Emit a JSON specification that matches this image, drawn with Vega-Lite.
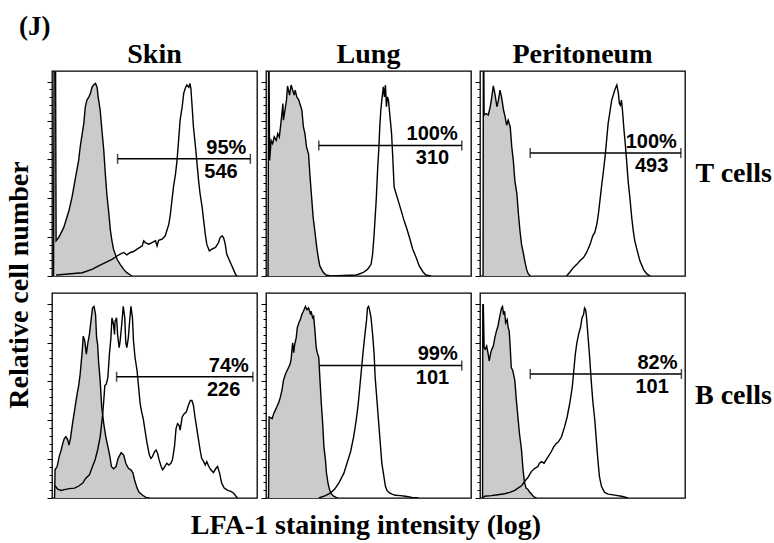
{
"$schema": "https://vega.github.io/schema/vega-lite/v6.json",
"background": "white",
"padding": {"left": 5, "top": 13, "right": 1, "bottom": 2},
"title": {"text": "(J)", "anchor": "start", "frame": "bounds", "dx": 13, "font": "Liberation Serif", "fontSize": 27, "fontWeight": "bold", "color": "black", "offset": 0},
"data": {"values": [
{"tissue":"Skin","cell":"T cells","series":"gate","log":1.28,"log_end":3.87,"count":60.3,"pct":"95%","mfi":"546"},
{"tissue":"Lung","cell":"T cells","series":"gate","log":1.03,"log_end":3.82,"count":67.2,"pct":"100%","mfi":"310"},
{"tissue":"Peritoneum","cell":"T cells","series":"gate","log":0.98,"log_end":3.92,"count":63.3,"pct":"100%","mfi":"493"},
{"tissue":"Skin","cell":"B cells","series":"gate","log":1.26,"log_end":3.92,"count":62.4,"pct":"74%","mfi":"226"},
{"tissue":"Lung","cell":"B cells","series":"gate","log":1.0,"log_end":3.82,"count":68.2,"pct":"99%","mfi":"101"},
{"tissue":"Peritoneum","cell":"B cells","series":"gate","log":0.98,"log_end":3.93,"count":63.8,"pct":"82%","mfi":"101"},
{"tissue":"Skin","cell":"T cells","series":"isotype","log":0.03,"count":0},
{"tissue":"Skin","cell":"T cells","series":"isotype","log":0.04,"count":105},
{"tissue":"Skin","cell":"T cells","series":"isotype","log":0.07,"count":105},
{"tissue":"Skin","cell":"T cells","series":"isotype","log":0.08,"count":18.1},
{"tissue":"Skin","cell":"T cells","series":"isotype","log":0.13,"count":19.8},
{"tissue":"Skin","cell":"T cells","series":"isotype","log":0.23,"count":25.0},
{"tissue":"Skin","cell":"T cells","series":"isotype","log":0.33,"count":33.6},
{"tissue":"Skin","cell":"T cells","series":"isotype","log":0.39,"count":40.5},
{"tissue":"Skin","cell":"T cells","series":"isotype","log":0.46,"count":50.9},
{"tissue":"Skin","cell":"T cells","series":"isotype","log":0.52,"count":59.5},
{"tissue":"Skin","cell":"T cells","series":"isotype","log":0.55,"count":66.4},
{"tissue":"Skin","cell":"T cells","series":"isotype","log":0.59,"count":73.3},
{"tissue":"Skin","cell":"T cells","series":"isotype","log":0.62,"count":78.4},
{"tissue":"Skin","cell":"T cells","series":"isotype","log":0.65,"count":87.1},
{"tissue":"Skin","cell":"T cells","series":"isotype","log":0.68,"count":90.5},
{"tissue":"Skin","cell":"T cells","series":"isotype","log":0.72,"count":92.2},
{"tissue":"Skin","cell":"T cells","series":"isotype","log":0.75,"count":94.0},
{"tissue":"Skin","cell":"T cells","series":"isotype","log":0.78,"count":97.1},
{"tissue":"Skin","cell":"T cells","series":"isotype","log":0.81,"count":98.3},
{"tissue":"Skin","cell":"T cells","series":"isotype","log":0.85,"count":99.1},
{"tissue":"Skin","cell":"T cells","series":"isotype","log":0.88,"count":97.1},
{"tissue":"Skin","cell":"T cells","series":"isotype","log":0.90,"count":92.2},
{"tissue":"Skin","cell":"T cells","series":"isotype","log":0.92,"count":88.8},
{"tissue":"Skin","cell":"T cells","series":"isotype","log":0.94,"count":85.3},
{"tissue":"Skin","cell":"T cells","series":"isotype","log":0.98,"count":73.3},
{"tissue":"Skin","cell":"T cells","series":"isotype","log":1.01,"count":64.7},
{"tissue":"Skin","cell":"T cells","series":"isotype","log":1.04,"count":52.6},
{"tissue":"Skin","cell":"T cells","series":"isotype","log":1.07,"count":42.2},
{"tissue":"Skin","cell":"T cells","series":"isotype","log":1.11,"count":31.9},
{"tissue":"Skin","cell":"T cells","series":"isotype","log":1.14,"count":23.3},
{"tissue":"Skin","cell":"T cells","series":"isotype","log":1.17,"count":18.1},
{"tissue":"Skin","cell":"T cells","series":"isotype","log":1.20,"count":13.8},
{"tissue":"Skin","cell":"T cells","series":"isotype","log":1.27,"count":8.6},
{"tissue":"Skin","cell":"T cells","series":"isotype","log":1.33,"count":6.0},
{"tissue":"Skin","cell":"T cells","series":"isotype","log":1.40,"count":3.4},
{"tissue":"Skin","cell":"T cells","series":"isotype","log":1.46,"count":1.7},
{"tissue":"Skin","cell":"T cells","series":"isotype","log":1.53,"count":0.5},
{"tissue":"Skin","cell":"T cells","series":"isotype","log":1.56,"count":0},
{"tissue":"Skin","cell":"T cells","series":"LFA-1","log":0.08,"count":0.5},
{"tissue":"Skin","cell":"T cells","series":"LFA-1","log":0.26,"count":0.9},
{"tissue":"Skin","cell":"T cells","series":"LFA-1","log":0.59,"count":1.7},
{"tissue":"Skin","cell":"T cells","series":"LFA-1","log":0.78,"count":3.4},
{"tissue":"Skin","cell":"T cells","series":"LFA-1","log":0.91,"count":5.2},
{"tissue":"Skin","cell":"T cells","series":"LFA-1","log":1.04,"count":6.9},
{"tissue":"Skin","cell":"T cells","series":"LFA-1","log":1.17,"count":8.6},
{"tissue":"Skin","cell":"T cells","series":"LFA-1","log":1.27,"count":10.3},
{"tissue":"Skin","cell":"T cells","series":"LFA-1","log":1.33,"count":11.2},
{"tissue":"Skin","cell":"T cells","series":"LFA-1","log":1.40,"count":12.1},
{"tissue":"Skin","cell":"T cells","series":"LFA-1","log":1.46,"count":10.9},
{"tissue":"Skin","cell":"T cells","series":"LFA-1","log":1.53,"count":12.1},
{"tissue":"Skin","cell":"T cells","series":"LFA-1","log":1.59,"count":12.6},
{"tissue":"Skin","cell":"T cells","series":"LFA-1","log":1.66,"count":13.8},
{"tissue":"Skin","cell":"T cells","series":"LFA-1","log":1.76,"count":15.5},
{"tissue":"Skin","cell":"T cells","series":"LFA-1","log":1.79,"count":18.1},
{"tissue":"Skin","cell":"T cells","series":"LFA-1","log":1.82,"count":17.2},
{"tissue":"Skin","cell":"T cells","series":"LFA-1","log":1.89,"count":16.4},
{"tissue":"Skin","cell":"T cells","series":"LFA-1","log":1.95,"count":17.2},
{"tissue":"Skin","cell":"T cells","series":"LFA-1","log":2.02,"count":18.1},
{"tissue":"Skin","cell":"T cells","series":"LFA-1","log":2.05,"count":15.5},
{"tissue":"Skin","cell":"T cells","series":"LFA-1","log":2.08,"count":18.4},
{"tissue":"Skin","cell":"T cells","series":"LFA-1","log":2.15,"count":19.0},
{"tissue":"Skin","cell":"T cells","series":"LFA-1","log":2.18,"count":19.8},
{"tissue":"Skin","cell":"T cells","series":"LFA-1","log":2.21,"count":20.7},
{"tissue":"Skin","cell":"T cells","series":"LFA-1","log":2.24,"count":23.3},
{"tissue":"Skin","cell":"T cells","series":"LFA-1","log":2.28,"count":26.7},
{"tissue":"Skin","cell":"T cells","series":"LFA-1","log":2.31,"count":31.9},
{"tissue":"Skin","cell":"T cells","series":"LFA-1","log":2.34,"count":38.8},
{"tissue":"Skin","cell":"T cells","series":"LFA-1","log":2.37,"count":45.7},
{"tissue":"Skin","cell":"T cells","series":"LFA-1","log":2.41,"count":52.6},
{"tissue":"Skin","cell":"T cells","series":"LFA-1","log":2.44,"count":59.5},
{"tissue":"Skin","cell":"T cells","series":"LFA-1","log":2.47,"count":69.8},
{"tissue":"Skin","cell":"T cells","series":"LFA-1","log":2.50,"count":80.2},
{"tissue":"Skin","cell":"T cells","series":"LFA-1","log":2.54,"count":87.1},
{"tissue":"Skin","cell":"T cells","series":"LFA-1","log":2.57,"count":94.0},
{"tissue":"Skin","cell":"T cells","series":"LFA-1","log":2.60,"count":96.6},
{"tissue":"Skin","cell":"T cells","series":"LFA-1","log":2.63,"count":98.3},
{"tissue":"Skin","cell":"T cells","series":"LFA-1","log":2.67,"count":97.1},
{"tissue":"Skin","cell":"T cells","series":"LFA-1","log":2.69,"count":99.1},
{"tissue":"Skin","cell":"T cells","series":"LFA-1","log":2.71,"count":96.6},
{"tissue":"Skin","cell":"T cells","series":"LFA-1","log":2.73,"count":88.8},
{"tissue":"Skin","cell":"T cells","series":"LFA-1","log":2.76,"count":76.7},
{"tissue":"Skin","cell":"T cells","series":"LFA-1","log":2.80,"count":66.4},
{"tissue":"Skin","cell":"T cells","series":"LFA-1","log":2.83,"count":57.8},
{"tissue":"Skin","cell":"T cells","series":"LFA-1","log":2.86,"count":49.1},
{"tissue":"Skin","cell":"T cells","series":"LFA-1","log":2.89,"count":42.2},
{"tissue":"Skin","cell":"T cells","series":"LFA-1","log":2.93,"count":35.3},
{"tissue":"Skin","cell":"T cells","series":"LFA-1","log":2.96,"count":28.4},
{"tissue":"Skin","cell":"T cells","series":"LFA-1","log":2.99,"count":21.6},
{"tissue":"Skin","cell":"T cells","series":"LFA-1","log":3.02,"count":16.4},
{"tissue":"Skin","cell":"T cells","series":"LFA-1","log":3.07,"count":12.9},
{"tissue":"Skin","cell":"T cells","series":"LFA-1","log":3.12,"count":13.8},
{"tissue":"Skin","cell":"T cells","series":"LFA-1","log":3.19,"count":14.7},
{"tissue":"Skin","cell":"T cells","series":"LFA-1","log":3.25,"count":17.2},
{"tissue":"Skin","cell":"T cells","series":"LFA-1","log":3.28,"count":19.8},
{"tissue":"Skin","cell":"T cells","series":"LFA-1","log":3.32,"count":20.7},
{"tissue":"Skin","cell":"T cells","series":"LFA-1","log":3.35,"count":19.5},
{"tissue":"Skin","cell":"T cells","series":"LFA-1","log":3.38,"count":16.4},
{"tissue":"Skin","cell":"T cells","series":"LFA-1","log":3.41,"count":11.2},
{"tissue":"Skin","cell":"T cells","series":"LFA-1","log":3.48,"count":6.9},
{"tissue":"Skin","cell":"T cells","series":"LFA-1","log":3.54,"count":3.4},
{"tissue":"Skin","cell":"T cells","series":"LFA-1","log":3.58,"count":0.9},
{"tissue":"Skin","cell":"T cells","series":"LFA-1","log":3.61,"count":0},
{"tissue":"Lung","cell":"T cells","series":"isotype","log":0.04,"count":0},
{"tissue":"Lung","cell":"T cells","series":"isotype","log":0.05,"count":105},
{"tissue":"Lung","cell":"T cells","series":"isotype","log":0.06,"count":105},
{"tissue":"Lung","cell":"T cells","series":"isotype","log":0.07,"count":59.5},
{"tissue":"Lung","cell":"T cells","series":"isotype","log":0.10,"count":69.8},
{"tissue":"Lung","cell":"T cells","series":"isotype","log":0.13,"count":68.1},
{"tissue":"Lung","cell":"T cells","series":"isotype","log":0.16,"count":71.6},
{"tissue":"Lung","cell":"T cells","series":"isotype","log":0.20,"count":69.8},
{"tissue":"Lung","cell":"T cells","series":"isotype","log":0.23,"count":73.3},
{"tissue":"Lung","cell":"T cells","series":"isotype","log":0.26,"count":71.6},
{"tissue":"Lung","cell":"T cells","series":"isotype","log":0.29,"count":78.4},
{"tissue":"Lung","cell":"T cells","series":"isotype","log":0.33,"count":88.8},
{"tissue":"Lung","cell":"T cells","series":"isotype","log":0.34,"count":80.2},
{"tissue":"Lung","cell":"T cells","series":"isotype","log":0.38,"count":87.1},
{"tissue":"Lung","cell":"T cells","series":"isotype","log":0.40,"count":90.5},
{"tissue":"Lung","cell":"T cells","series":"isotype","log":0.42,"count":97.8},
{"tissue":"Lung","cell":"T cells","series":"isotype","log":0.46,"count":93.1},
{"tissue":"Lung","cell":"T cells","series":"isotype","log":0.49,"count":98.3},
{"tissue":"Lung","cell":"T cells","series":"isotype","log":0.52,"count":95.7},
{"tissue":"Lung","cell":"T cells","series":"isotype","log":0.55,"count":93.1},
{"tissue":"Lung","cell":"T cells","series":"isotype","log":0.57,"count":95.7},
{"tissue":"Lung","cell":"T cells","series":"isotype","log":0.60,"count":92.2},
{"tissue":"Lung","cell":"T cells","series":"isotype","log":0.64,"count":90.5},
{"tissue":"Lung","cell":"T cells","series":"isotype","log":0.66,"count":88.8},
{"tissue":"Lung","cell":"T cells","series":"isotype","log":0.70,"count":85.3},
{"tissue":"Lung","cell":"T cells","series":"isotype","log":0.73,"count":76.7},
{"tissue":"Lung","cell":"T cells","series":"isotype","log":0.76,"count":73.3},
{"tissue":"Lung","cell":"T cells","series":"isotype","log":0.79,"count":66.4},
{"tissue":"Lung","cell":"T cells","series":"isotype","log":0.83,"count":62.9},
{"tissue":"Lung","cell":"T cells","series":"isotype","log":0.86,"count":50.9},
{"tissue":"Lung","cell":"T cells","series":"isotype","log":0.89,"count":40.5},
{"tissue":"Lung","cell":"T cells","series":"isotype","log":0.92,"count":30.2},
{"tissue":"Lung","cell":"T cells","series":"isotype","log":0.96,"count":21.6},
{"tissue":"Lung","cell":"T cells","series":"isotype","log":0.99,"count":14.7},
{"tissue":"Lung","cell":"T cells","series":"isotype","log":1.02,"count":9.5},
{"tissue":"Lung","cell":"T cells","series":"isotype","log":1.05,"count":5.2},
{"tissue":"Lung","cell":"T cells","series":"isotype","log":1.11,"count":2.2},
{"tissue":"Lung","cell":"T cells","series":"isotype","log":1.17,"count":0.5},
{"tissue":"Lung","cell":"T cells","series":"isotype","log":1.27,"count":0},
{"tissue":"Lung","cell":"T cells","series":"LFA-1","log":1.27,"count":0},
{"tissue":"Lung","cell":"T cells","series":"LFA-1","log":1.76,"count":0.5},
{"tissue":"Lung","cell":"T cells","series":"LFA-1","log":1.89,"count":1.7},
{"tissue":"Lung","cell":"T cells","series":"LFA-1","log":1.98,"count":3.4},
{"tissue":"Lung","cell":"T cells","series":"LFA-1","log":2.05,"count":6.0},
{"tissue":"Lung","cell":"T cells","series":"LFA-1","log":2.08,"count":11.2},
{"tissue":"Lung","cell":"T cells","series":"LFA-1","log":2.11,"count":21.6},
{"tissue":"Lung","cell":"T cells","series":"LFA-1","log":2.15,"count":38.8},
{"tissue":"Lung","cell":"T cells","series":"LFA-1","log":2.18,"count":56.0},
{"tissue":"Lung","cell":"T cells","series":"LFA-1","log":2.20,"count":64.7},
{"tissue":"Lung","cell":"T cells","series":"LFA-1","log":2.22,"count":76.7},
{"tissue":"Lung","cell":"T cells","series":"LFA-1","log":2.24,"count":85.3},
{"tissue":"Lung","cell":"T cells","series":"LFA-1","log":2.26,"count":90.5},
{"tissue":"Lung","cell":"T cells","series":"LFA-1","log":2.29,"count":97.4},
{"tissue":"Lung","cell":"T cells","series":"LFA-1","log":2.31,"count":92.2},
{"tissue":"Lung","cell":"T cells","series":"LFA-1","log":2.33,"count":98.3},
{"tissue":"Lung","cell":"T cells","series":"LFA-1","log":2.35,"count":87.1},
{"tissue":"Lung","cell":"T cells","series":"LFA-1","log":2.37,"count":92.2},
{"tissue":"Lung","cell":"T cells","series":"LFA-1","log":2.39,"count":90.5},
{"tissue":"Lung","cell":"T cells","series":"LFA-1","log":2.42,"count":81.9},
{"tissue":"Lung","cell":"T cells","series":"LFA-1","log":2.45,"count":73.3},
{"tissue":"Lung","cell":"T cells","series":"LFA-1","log":2.47,"count":62.9},
{"tissue":"Lung","cell":"T cells","series":"LFA-1","log":2.50,"count":45.7},
{"tissue":"Lung","cell":"T cells","series":"LFA-1","log":2.54,"count":42.2},
{"tissue":"Lung","cell":"T cells","series":"LFA-1","log":2.60,"count":37.0},
{"tissue":"Lung","cell":"T cells","series":"LFA-1","log":2.65,"count":32.5},
{"tissue":"Lung","cell":"T cells","series":"LFA-1","log":2.70,"count":28.0},
{"tissue":"Lung","cell":"T cells","series":"LFA-1","log":2.74,"count":25.0},
{"tissue":"Lung","cell":"T cells","series":"LFA-1","log":2.80,"count":19.8},
{"tissue":"Lung","cell":"T cells","series":"LFA-1","log":2.86,"count":14.0},
{"tissue":"Lung","cell":"T cells","series":"LFA-1","log":2.93,"count":9.5},
{"tissue":"Lung","cell":"T cells","series":"LFA-1","log":2.99,"count":5.2},
{"tissue":"Lung","cell":"T cells","series":"LFA-1","log":3.06,"count":2.2},
{"tissue":"Lung","cell":"T cells","series":"LFA-1","log":3.12,"count":0.5},
{"tissue":"Lung","cell":"T cells","series":"LFA-1","log":3.22,"count":0},
{"tissue":"Peritoneum","cell":"T cells","series":"isotype","log":0.06,"count":0},
{"tissue":"Peritoneum","cell":"T cells","series":"isotype","log":0.065,"count":105},
{"tissue":"Peritoneum","cell":"T cells","series":"isotype","log":0.075,"count":105},
{"tissue":"Peritoneum","cell":"T cells","series":"isotype","log":0.08,"count":82.8},
{"tissue":"Peritoneum","cell":"T cells","series":"isotype","log":0.12,"count":83.6},
{"tissue":"Peritoneum","cell":"T cells","series":"isotype","log":0.16,"count":82.8},
{"tissue":"Peritoneum","cell":"T cells","series":"isotype","log":0.20,"count":87.1},
{"tissue":"Peritoneum","cell":"T cells","series":"isotype","log":0.23,"count":92.2},
{"tissue":"Peritoneum","cell":"T cells","series":"isotype","log":0.26,"count":97.8},
{"tissue":"Peritoneum","cell":"T cells","series":"isotype","log":0.29,"count":94.0},
{"tissue":"Peritoneum","cell":"T cells","series":"isotype","log":0.33,"count":87.1},
{"tissue":"Peritoneum","cell":"T cells","series":"isotype","log":0.36,"count":90.5},
{"tissue":"Peritoneum","cell":"T cells","series":"isotype","log":0.39,"count":95.7},
{"tissue":"Peritoneum","cell":"T cells","series":"isotype","log":0.42,"count":92.2},
{"tissue":"Peritoneum","cell":"T cells","series":"isotype","log":0.46,"count":85.3},
{"tissue":"Peritoneum","cell":"T cells","series":"isotype","log":0.49,"count":81.9},
{"tissue":"Peritoneum","cell":"T cells","series":"isotype","log":0.52,"count":77.6},
{"tissue":"Peritoneum","cell":"T cells","series":"isotype","log":0.55,"count":80.2},
{"tissue":"Peritoneum","cell":"T cells","series":"isotype","log":0.59,"count":76.7},
{"tissue":"Peritoneum","cell":"T cells","series":"isotype","log":0.62,"count":66.4},
{"tissue":"Peritoneum","cell":"T cells","series":"isotype","log":0.65,"count":59.5},
{"tissue":"Peritoneum","cell":"T cells","series":"isotype","log":0.68,"count":49.1},
{"tissue":"Peritoneum","cell":"T cells","series":"isotype","log":0.72,"count":42.2},
{"tissue":"Peritoneum","cell":"T cells","series":"isotype","log":0.75,"count":31.9},
{"tissue":"Peritoneum","cell":"T cells","series":"isotype","log":0.78,"count":23.3},
{"tissue":"Peritoneum","cell":"T cells","series":"isotype","log":0.81,"count":16.4},
{"tissue":"Peritoneum","cell":"T cells","series":"isotype","log":0.85,"count":11.2},
{"tissue":"Peritoneum","cell":"T cells","series":"isotype","log":0.88,"count":6.9},
{"tissue":"Peritoneum","cell":"T cells","series":"isotype","log":0.91,"count":3.4},
{"tissue":"Peritoneum","cell":"T cells","series":"isotype","log":0.94,"count":1.2},
{"tissue":"Peritoneum","cell":"T cells","series":"isotype","log":0.98,"count":0},
{"tissue":"Peritoneum","cell":"T cells","series":"LFA-1","log":1.69,"count":0},
{"tissue":"Peritoneum","cell":"T cells","series":"LFA-1","log":1.76,"count":2.2},
{"tissue":"Peritoneum","cell":"T cells","series":"LFA-1","log":1.82,"count":4.3},
{"tissue":"Peritoneum","cell":"T cells","series":"LFA-1","log":1.89,"count":6.0},
{"tissue":"Peritoneum","cell":"T cells","series":"LFA-1","log":1.95,"count":7.8},
{"tissue":"Peritoneum","cell":"T cells","series":"LFA-1","log":2.02,"count":9.5},
{"tissue":"Peritoneum","cell":"T cells","series":"LFA-1","log":2.08,"count":12.1},
{"tissue":"Peritoneum","cell":"T cells","series":"LFA-1","log":2.15,"count":16.4},
{"tissue":"Peritoneum","cell":"T cells","series":"LFA-1","log":2.20,"count":20.7},
{"tissue":"Peritoneum","cell":"T cells","series":"LFA-1","log":2.24,"count":22.4},
{"tissue":"Peritoneum","cell":"T cells","series":"LFA-1","log":2.28,"count":26.7},
{"tissue":"Peritoneum","cell":"T cells","series":"LFA-1","log":2.31,"count":31.9},
{"tissue":"Peritoneum","cell":"T cells","series":"LFA-1","log":2.34,"count":38.8},
{"tissue":"Peritoneum","cell":"T cells","series":"LFA-1","log":2.37,"count":45.7},
{"tissue":"Peritoneum","cell":"T cells","series":"LFA-1","log":2.41,"count":54.3},
{"tissue":"Peritoneum","cell":"T cells","series":"LFA-1","log":2.44,"count":61.2},
{"tissue":"Peritoneum","cell":"T cells","series":"LFA-1","log":2.47,"count":69.8},
{"tissue":"Peritoneum","cell":"T cells","series":"LFA-1","log":2.50,"count":78.4},
{"tissue":"Peritoneum","cell":"T cells","series":"LFA-1","log":2.54,"count":85.3},
{"tissue":"Peritoneum","cell":"T cells","series":"LFA-1","log":2.57,"count":90.5},
{"tissue":"Peritoneum","cell":"T cells","series":"LFA-1","log":2.60,"count":93.1},
{"tissue":"Peritoneum","cell":"T cells","series":"LFA-1","log":2.63,"count":95.7},
{"tissue":"Peritoneum","cell":"T cells","series":"LFA-1","log":2.67,"count":98.3},
{"tissue":"Peritoneum","cell":"T cells","series":"LFA-1","log":2.70,"count":94.0},
{"tissue":"Peritoneum","cell":"T cells","series":"LFA-1","log":2.72,"count":88.8},
{"tissue":"Peritoneum","cell":"T cells","series":"LFA-1","log":2.74,"count":87.9},
{"tissue":"Peritoneum","cell":"T cells","series":"LFA-1","log":2.76,"count":90.5},
{"tissue":"Peritoneum","cell":"T cells","series":"LFA-1","log":2.78,"count":85.3},
{"tissue":"Peritoneum","cell":"T cells","series":"LFA-1","log":2.81,"count":75.0},
{"tissue":"Peritoneum","cell":"T cells","series":"LFA-1","log":2.84,"count":66.4},
{"tissue":"Peritoneum","cell":"T cells","series":"LFA-1","log":2.86,"count":59.5},
{"tissue":"Peritoneum","cell":"T cells","series":"LFA-1","log":2.89,"count":49.1},
{"tissue":"Peritoneum","cell":"T cells","series":"LFA-1","log":2.93,"count":38.8},
{"tissue":"Peritoneum","cell":"T cells","series":"LFA-1","log":2.96,"count":30.2},
{"tissue":"Peritoneum","cell":"T cells","series":"LFA-1","log":2.99,"count":23.3},
{"tissue":"Peritoneum","cell":"T cells","series":"LFA-1","log":3.02,"count":18.1},
{"tissue":"Peritoneum","cell":"T cells","series":"LFA-1","log":3.06,"count":13.8},
{"tissue":"Peritoneum","cell":"T cells","series":"LFA-1","log":3.12,"count":7.8},
{"tissue":"Peritoneum","cell":"T cells","series":"LFA-1","log":3.19,"count":3.4},
{"tissue":"Peritoneum","cell":"T cells","series":"LFA-1","log":3.25,"count":1.2},
{"tissue":"Peritoneum","cell":"T cells","series":"LFA-1","log":3.32,"count":0},
{"tissue":"Skin","cell":"B cells","series":"isotype","log":0.05,"count":0},
{"tissue":"Skin","cell":"B cells","series":"isotype","log":0.06,"count":14.5},
{"tissue":"Skin","cell":"B cells","series":"isotype","log":0.10,"count":16.2},
{"tissue":"Skin","cell":"B cells","series":"isotype","log":0.14,"count":21.3},
{"tissue":"Skin","cell":"B cells","series":"isotype","log":0.18,"count":24.7},
{"tissue":"Skin","cell":"B cells","series":"isotype","log":0.21,"count":28.1},
{"tissue":"Skin","cell":"B cells","series":"isotype","log":0.24,"count":30.6},
{"tissue":"Skin","cell":"B cells","series":"isotype","log":0.27,"count":31.5},
{"tissue":"Skin","cell":"B cells","series":"isotype","log":0.31,"count":29.8},
{"tissue":"Skin","cell":"B cells","series":"isotype","log":0.33,"count":27.2},
{"tissue":"Skin","cell":"B cells","series":"isotype","log":0.36,"count":30.6},
{"tissue":"Skin","cell":"B cells","series":"isotype","log":0.40,"count":38.3},
{"tissue":"Skin","cell":"B cells","series":"isotype","log":0.45,"count":46.8},
{"tissue":"Skin","cell":"B cells","series":"isotype","log":0.49,"count":53.6},
{"tissue":"Skin","cell":"B cells","series":"isotype","log":0.52,"count":57.8},
{"tissue":"Skin","cell":"B cells","series":"isotype","log":0.55,"count":63.8},
{"tissue":"Skin","cell":"B cells","series":"isotype","log":0.59,"count":75.7},
{"tissue":"Skin","cell":"B cells","series":"isotype","log":0.61,"count":83.3},
{"tissue":"Skin","cell":"B cells","series":"isotype","log":0.64,"count":80.8},
{"tissue":"Skin","cell":"B cells","series":"isotype","log":0.67,"count":74.0},
{"tissue":"Skin","cell":"B cells","series":"isotype","log":0.70,"count":79.9},
{"tissue":"Skin","cell":"B cells","series":"isotype","log":0.73,"count":84.2},
{"tissue":"Skin","cell":"B cells","series":"isotype","log":0.76,"count":91.0},
{"tissue":"Skin","cell":"B cells","series":"isotype","log":0.79,"count":97.8},
{"tissue":"Skin","cell":"B cells","series":"isotype","log":0.82,"count":98.6},
{"tissue":"Skin","cell":"B cells","series":"isotype","log":0.85,"count":94.4},
{"tissue":"Skin","cell":"B cells","series":"isotype","log":0.87,"count":82.5},
{"tissue":"Skin","cell":"B cells","series":"isotype","log":0.89,"count":79.1},
{"tissue":"Skin","cell":"B cells","series":"isotype","log":0.91,"count":69.7},
{"tissue":"Skin","cell":"B cells","series":"isotype","log":0.94,"count":60.4},
{"tissue":"Skin","cell":"B cells","series":"isotype","log":0.97,"count":46.8},
{"tissue":"Skin","cell":"B cells","series":"isotype","log":1.01,"count":38.3},
{"tissue":"Skin","cell":"B cells","series":"isotype","log":1.05,"count":31.5},
{"tissue":"Skin","cell":"B cells","series":"isotype","log":1.09,"count":26.4},
{"tissue":"Skin","cell":"B cells","series":"isotype","log":1.13,"count":21.3},
{"tissue":"Skin","cell":"B cells","series":"isotype","log":1.16,"count":16.2},
{"tissue":"Skin","cell":"B cells","series":"isotype","log":1.20,"count":15.0},
{"tissue":"Skin","cell":"B cells","series":"isotype","log":1.25,"count":16.2},
{"tissue":"Skin","cell":"B cells","series":"isotype","log":1.29,"count":20.4},
{"tissue":"Skin","cell":"B cells","series":"isotype","log":1.35,"count":23.3},
{"tissue":"Skin","cell":"B cells","series":"isotype","log":1.40,"count":22.1},
{"tissue":"Skin","cell":"B cells","series":"isotype","log":1.44,"count":17.9},
{"tissue":"Skin","cell":"B cells","series":"isotype","log":1.49,"count":15.3},
{"tissue":"Skin","cell":"B cells","series":"isotype","log":1.54,"count":14.5},
{"tissue":"Skin","cell":"B cells","series":"isotype","log":1.58,"count":12.8},
{"tissue":"Skin","cell":"B cells","series":"isotype","log":1.61,"count":9.4},
{"tissue":"Skin","cell":"B cells","series":"isotype","log":1.66,"count":5.1},
{"tissue":"Skin","cell":"B cells","series":"isotype","log":1.70,"count":2.9},
{"tissue":"Skin","cell":"B cells","series":"isotype","log":1.77,"count":1.4},
{"tissue":"Skin","cell":"B cells","series":"isotype","log":1.83,"count":0.3},
{"tissue":"Skin","cell":"B cells","series":"isotype","log":1.90,"count":0},
{"tissue":"Skin","cell":"B cells","series":"LFA-1","log":0.06,"count":6.3},
{"tissue":"Skin","cell":"B cells","series":"LFA-1","log":0.11,"count":4.6},
{"tissue":"Skin","cell":"B cells","series":"LFA-1","log":0.18,"count":3.9},
{"tissue":"Skin","cell":"B cells","series":"LFA-1","log":0.24,"count":4.3},
{"tissue":"Skin","cell":"B cells","series":"LFA-1","log":0.34,"count":4.8},
{"tissue":"Skin","cell":"B cells","series":"LFA-1","log":0.44,"count":5.1},
{"tissue":"Skin","cell":"B cells","series":"LFA-1","log":0.53,"count":6.3},
{"tissue":"Skin","cell":"B cells","series":"LFA-1","log":0.60,"count":7.7},
{"tissue":"Skin","cell":"B cells","series":"LFA-1","log":0.66,"count":10.2},
{"tissue":"Skin","cell":"B cells","series":"LFA-1","log":0.73,"count":11.9},
{"tissue":"Skin","cell":"B cells","series":"LFA-1","log":0.79,"count":16.2},
{"tissue":"Skin","cell":"B cells","series":"LFA-1","log":0.84,"count":19.6},
{"tissue":"Skin","cell":"B cells","series":"LFA-1","log":0.89,"count":24.7},
{"tissue":"Skin","cell":"B cells","series":"LFA-1","log":0.94,"count":31.5},
{"tissue":"Skin","cell":"B cells","series":"LFA-1","log":0.99,"count":43.4},
{"tissue":"Skin","cell":"B cells","series":"LFA-1","log":1.02,"count":53.6},
{"tissue":"Skin","cell":"B cells","series":"LFA-1","log":1.03,"count":57.8},
{"tissue":"Skin","cell":"B cells","series":"LFA-1","log":1.06,"count":58.7},
{"tissue":"Skin","cell":"B cells","series":"LFA-1","log":1.09,"count":62.1},
{"tissue":"Skin","cell":"B cells","series":"LFA-1","log":1.12,"count":74.0},
{"tissue":"Skin","cell":"B cells","series":"LFA-1","log":1.15,"count":82.5},
{"tissue":"Skin","cell":"B cells","series":"LFA-1","log":1.17,"count":92.7},
{"tissue":"Skin","cell":"B cells","series":"LFA-1","log":1.20,"count":89.3},
{"tissue":"Skin","cell":"B cells","series":"LFA-1","log":1.22,"count":84.2},
{"tissue":"Skin","cell":"B cells","series":"LFA-1","log":1.23,"count":91.0},
{"tissue":"Skin","cell":"B cells","series":"LFA-1","log":1.26,"count":92.7},
{"tissue":"Skin","cell":"B cells","series":"LFA-1","log":1.28,"count":84.2},
{"tissue":"Skin","cell":"B cells","series":"LFA-1","log":1.31,"count":77.4},
{"tissue":"Skin","cell":"B cells","series":"LFA-1","log":1.33,"count":80.8},
{"tissue":"Skin","cell":"B cells","series":"LFA-1","log":1.36,"count":89.3},
{"tissue":"Skin","cell":"B cells","series":"LFA-1","log":1.39,"count":98.6},
{"tissue":"Skin","cell":"B cells","series":"LFA-1","log":1.42,"count":92.7},
{"tissue":"Skin","cell":"B cells","series":"LFA-1","log":1.44,"count":79.9},
{"tissue":"Skin","cell":"B cells","series":"LFA-1","log":1.46,"count":77.4},
{"tissue":"Skin","cell":"B cells","series":"LFA-1","log":1.49,"count":82.5},
{"tissue":"Skin","cell":"B cells","series":"LFA-1","log":1.52,"count":92.7},
{"tissue":"Skin","cell":"B cells","series":"LFA-1","log":1.54,"count":98.6},
{"tissue":"Skin","cell":"B cells","series":"LFA-1","log":1.57,"count":92.7},
{"tissue":"Skin","cell":"B cells","series":"LFA-1","log":1.59,"count":80.8},
{"tissue":"Skin","cell":"B cells","series":"LFA-1","log":1.62,"count":72.3},
{"tissue":"Skin","cell":"B cells","series":"LFA-1","log":1.66,"count":65.5},
{"tissue":"Skin","cell":"B cells","series":"LFA-1","log":1.69,"count":57.0},
{"tissue":"Skin","cell":"B cells","series":"LFA-1","log":1.72,"count":48.5},
{"tissue":"Skin","cell":"B cells","series":"LFA-1","log":1.75,"count":44.2},
{"tissue":"Skin","cell":"B cells","series":"LFA-1","log":1.78,"count":40.8},
{"tissue":"Skin","cell":"B cells","series":"LFA-1","log":1.81,"count":35.7},
{"tissue":"Skin","cell":"B cells","series":"LFA-1","log":1.85,"count":28.9},
{"tissue":"Skin","cell":"B cells","series":"LFA-1","log":1.90,"count":22.1},
{"tissue":"Skin","cell":"B cells","series":"LFA-1","log":1.93,"count":20.4},
{"tissue":"Skin","cell":"B cells","series":"LFA-1","log":1.96,"count":21.3},
{"tissue":"Skin","cell":"B cells","series":"LFA-1","log":2.00,"count":23.8},
{"tissue":"Skin","cell":"B cells","series":"LFA-1","log":2.03,"count":24.7},
{"tissue":"Skin","cell":"B cells","series":"LFA-1","log":2.06,"count":23.0},
{"tissue":"Skin","cell":"B cells","series":"LFA-1","log":2.09,"count":19.6},
{"tissue":"Skin","cell":"B cells","series":"LFA-1","log":2.13,"count":16.2},
{"tissue":"Skin","cell":"B cells","series":"LFA-1","log":2.16,"count":14.5},
{"tissue":"Skin","cell":"B cells","series":"LFA-1","log":2.20,"count":16.2},
{"tissue":"Skin","cell":"B cells","series":"LFA-1","log":2.24,"count":17.9},
{"tissue":"Skin","cell":"B cells","series":"LFA-1","log":2.28,"count":17.0},
{"tissue":"Skin","cell":"B cells","series":"LFA-1","log":2.32,"count":17.9},
{"tissue":"Skin","cell":"B cells","series":"LFA-1","log":2.35,"count":19.6},
{"tissue":"Skin","cell":"B cells","series":"LFA-1","log":2.39,"count":26.4},
{"tissue":"Skin","cell":"B cells","series":"LFA-1","log":2.42,"count":35.7},
{"tissue":"Skin","cell":"B cells","series":"LFA-1","log":2.45,"count":38.3},
{"tissue":"Skin","cell":"B cells","series":"LFA-1","log":2.48,"count":37.4},
{"tissue":"Skin","cell":"B cells","series":"LFA-1","log":2.50,"count":34.9},
{"tissue":"Skin","cell":"B cells","series":"LFA-1","log":2.54,"count":41.7},
{"tissue":"Skin","cell":"B cells","series":"LFA-1","log":2.58,"count":43.4},
{"tissue":"Skin","cell":"B cells","series":"LFA-1","log":2.62,"count":44.2},
{"tissue":"Skin","cell":"B cells","series":"LFA-1","log":2.66,"count":47.6},
{"tissue":"Skin","cell":"B cells","series":"LFA-1","log":2.70,"count":50.2},
{"tissue":"Skin","cell":"B cells","series":"LFA-1","log":2.73,"count":50.2},
{"tissue":"Skin","cell":"B cells","series":"LFA-1","log":2.76,"count":47.6},
{"tissue":"Skin","cell":"B cells","series":"LFA-1","log":2.79,"count":41.7},
{"tissue":"Skin","cell":"B cells","series":"LFA-1","log":2.82,"count":36.6},
{"tissue":"Skin","cell":"B cells","series":"LFA-1","log":2.86,"count":29.8},
{"tissue":"Skin","cell":"B cells","series":"LFA-1","log":2.89,"count":24.7},
{"tissue":"Skin","cell":"B cells","series":"LFA-1","log":2.92,"count":20.4},
{"tissue":"Skin","cell":"B cells","series":"LFA-1","log":2.96,"count":18.7},
{"tissue":"Skin","cell":"B cells","series":"LFA-1","log":2.99,"count":17.0},
{"tissue":"Skin","cell":"B cells","series":"LFA-1","log":3.02,"count":18.7},
{"tissue":"Skin","cell":"B cells","series":"LFA-1","log":3.06,"count":16.2},
{"tissue":"Skin","cell":"B cells","series":"LFA-1","log":3.10,"count":14.5},
{"tissue":"Skin","cell":"B cells","series":"LFA-1","log":3.15,"count":13.1},
{"tissue":"Skin","cell":"B cells","series":"LFA-1","log":3.20,"count":15.3},
{"tissue":"Skin","cell":"B cells","series":"LFA-1","log":3.23,"count":16.2},
{"tissue":"Skin","cell":"B cells","series":"LFA-1","log":3.27,"count":12.8},
{"tissue":"Skin","cell":"B cells","series":"LFA-1","log":3.31,"count":7.7},
{"tissue":"Skin","cell":"B cells","series":"LFA-1","log":3.36,"count":5.1},
{"tissue":"Skin","cell":"B cells","series":"LFA-1","log":3.43,"count":3.9},
{"tissue":"Skin","cell":"B cells","series":"LFA-1","log":3.49,"count":3.4},
{"tissue":"Skin","cell":"B cells","series":"LFA-1","log":3.54,"count":2.6},
{"tissue":"Skin","cell":"B cells","series":"LFA-1","log":3.59,"count":0.9},
{"tissue":"Skin","cell":"B cells","series":"LFA-1","log":3.62,"count":0},
{"tissue":"Lung","cell":"B cells","series":"isotype","log":0.05,"count":0},
{"tissue":"Lung","cell":"B cells","series":"isotype","log":0.06,"count":41.7},
{"tissue":"Lung","cell":"B cells","series":"isotype","log":0.12,"count":40.8},
{"tissue":"Lung","cell":"B cells","series":"isotype","log":0.15,"count":43.4},
{"tissue":"Lung","cell":"B cells","series":"isotype","log":0.18,"count":45.1},
{"tissue":"Lung","cell":"B cells","series":"isotype","log":0.21,"count":46.8},
{"tissue":"Lung","cell":"B cells","series":"isotype","log":0.25,"count":49.3},
{"tissue":"Lung","cell":"B cells","series":"isotype","log":0.28,"count":51.9},
{"tissue":"Lung","cell":"B cells","series":"isotype","log":0.31,"count":55.3},
{"tissue":"Lung","cell":"B cells","series":"isotype","log":0.34,"count":60.4},
{"tissue":"Lung","cell":"B cells","series":"isotype","log":0.38,"count":63.8},
{"tissue":"Lung","cell":"B cells","series":"isotype","log":0.41,"count":65.5},
{"tissue":"Lung","cell":"B cells","series":"isotype","log":0.44,"count":67.2},
{"tissue":"Lung","cell":"B cells","series":"isotype","log":0.47,"count":68.9},
{"tissue":"Lung","cell":"B cells","series":"isotype","log":0.49,"count":71.4},
{"tissue":"Lung","cell":"B cells","series":"isotype","log":0.52,"count":79.9},
{"tissue":"Lung","cell":"B cells","series":"isotype","log":0.54,"count":74.8},
{"tissue":"Lung","cell":"B cells","series":"isotype","log":0.56,"count":79.1},
{"tissue":"Lung","cell":"B cells","series":"isotype","log":0.59,"count":82.5},
{"tissue":"Lung","cell":"B cells","series":"isotype","log":0.61,"count":87.6},
{"tissue":"Lung","cell":"B cells","series":"isotype","log":0.64,"count":90.1},
{"tissue":"Lung","cell":"B cells","series":"isotype","log":0.67,"count":91.8},
{"tissue":"Lung","cell":"B cells","series":"isotype","log":0.70,"count":94.4},
{"tissue":"Lung","cell":"B cells","series":"isotype","log":0.73,"count":96.1},
{"tissue":"Lung","cell":"B cells","series":"isotype","log":0.77,"count":98.6},
{"tissue":"Lung","cell":"B cells","series":"isotype","log":0.80,"count":96.9},
{"tissue":"Lung","cell":"B cells","series":"isotype","log":0.83,"count":97.8},
{"tissue":"Lung","cell":"B cells","series":"isotype","log":0.87,"count":94.4},
{"tissue":"Lung","cell":"B cells","series":"isotype","log":0.88,"count":96.1},
{"tissue":"Lung","cell":"B cells","series":"isotype","log":0.91,"count":92.7},
{"tissue":"Lung","cell":"B cells","series":"isotype","log":0.93,"count":93.5},
{"tissue":"Lung","cell":"B cells","series":"isotype","log":0.95,"count":87.6},
{"tissue":"Lung","cell":"B cells","series":"isotype","log":0.98,"count":77.4},
{"tissue":"Lung","cell":"B cells","series":"isotype","log":1.00,"count":74.8},
{"tissue":"Lung","cell":"B cells","series":"isotype","log":1.03,"count":72.3},
{"tissue":"Lung","cell":"B cells","series":"isotype","log":1.05,"count":62.1},
{"tissue":"Lung","cell":"B cells","series":"isotype","log":1.08,"count":48.5},
{"tissue":"Lung","cell":"B cells","series":"isotype","log":1.11,"count":36.6},
{"tissue":"Lung","cell":"B cells","series":"isotype","log":1.13,"count":26.4},
{"tissue":"Lung","cell":"B cells","series":"isotype","log":1.16,"count":19.6},
{"tissue":"Lung","cell":"B cells","series":"isotype","log":1.18,"count":12.8},
{"tissue":"Lung","cell":"B cells","series":"isotype","log":1.21,"count":7.7},
{"tissue":"Lung","cell":"B cells","series":"isotype","log":1.24,"count":4.3},
{"tissue":"Lung","cell":"B cells","series":"isotype","log":1.27,"count":2.2},
{"tissue":"Lung","cell":"B cells","series":"isotype","log":1.32,"count":0.9},
{"tissue":"Lung","cell":"B cells","series":"isotype","log":1.37,"count":0.3},
{"tissue":"Lung","cell":"B cells","series":"isotype","log":1.40,"count":0},
{"tissue":"Lung","cell":"B cells","series":"LFA-1","log":1.03,"count":0},
{"tissue":"Lung","cell":"B cells","series":"LFA-1","log":1.16,"count":1.2},
{"tissue":"Lung","cell":"B cells","series":"LFA-1","log":1.26,"count":2.6},
{"tissue":"Lung","cell":"B cells","series":"LFA-1","log":1.34,"count":4.6},
{"tissue":"Lung","cell":"B cells","series":"LFA-1","log":1.42,"count":7.7},
{"tissue":"Lung","cell":"B cells","series":"LFA-1","log":1.52,"count":12.8},
{"tissue":"Lung","cell":"B cells","series":"LFA-1","log":1.58,"count":17.9},
{"tissue":"Lung","cell":"B cells","series":"LFA-1","log":1.65,"count":23.8},
{"tissue":"Lung","cell":"B cells","series":"LFA-1","log":1.71,"count":31.5},
{"tissue":"Lung","cell":"B cells","series":"LFA-1","log":1.76,"count":40.0},
{"tissue":"Lung","cell":"B cells","series":"LFA-1","log":1.80,"count":48.5},
{"tissue":"Lung","cell":"B cells","series":"LFA-1","log":1.83,"count":57.0},
{"tissue":"Lung","cell":"B cells","series":"LFA-1","log":1.86,"count":65.5},
{"tissue":"Lung","cell":"B cells","series":"LFA-1","log":1.89,"count":74.0},
{"tissue":"Lung","cell":"B cells","series":"LFA-1","log":1.93,"count":84.2},
{"tissue":"Lung","cell":"B cells","series":"LFA-1","log":1.96,"count":91.0},
{"tissue":"Lung","cell":"B cells","series":"LFA-1","log":1.98,"count":97.8},
{"tissue":"Lung","cell":"B cells","series":"LFA-1","log":2.00,"count":98.6},
{"tissue":"Lung","cell":"B cells","series":"LFA-1","log":2.02,"count":96.9},
{"tissue":"Lung","cell":"B cells","series":"LFA-1","log":2.05,"count":92.7},
{"tissue":"Lung","cell":"B cells","series":"LFA-1","log":2.08,"count":84.2},
{"tissue":"Lung","cell":"B cells","series":"LFA-1","log":2.11,"count":74.0},
{"tissue":"Lung","cell":"B cells","series":"LFA-1","log":2.13,"count":62.1},
{"tissue":"Lung","cell":"B cells","series":"LFA-1","log":2.17,"count":48.5},
{"tissue":"Lung","cell":"B cells","series":"LFA-1","log":2.20,"count":38.3},
{"tissue":"Lung","cell":"B cells","series":"LFA-1","log":2.23,"count":28.1},
{"tissue":"Lung","cell":"B cells","series":"LFA-1","log":2.26,"count":17.9},
{"tissue":"Lung","cell":"B cells","series":"LFA-1","log":2.30,"count":11.1},
{"tissue":"Lung","cell":"B cells","series":"LFA-1","log":2.33,"count":6.0},
{"tissue":"Lung","cell":"B cells","series":"LFA-1","log":2.36,"count":3.9},
{"tissue":"Lung","cell":"B cells","series":"LFA-1","log":2.41,"count":2.6},
{"tissue":"Lung","cell":"B cells","series":"LFA-1","log":2.46,"count":2.0},
{"tissue":"Lung","cell":"B cells","series":"LFA-1","log":2.52,"count":1.4},
{"tissue":"Lung","cell":"B cells","series":"LFA-1","log":2.62,"count":1.2},
{"tissue":"Lung","cell":"B cells","series":"LFA-1","log":2.72,"count":0.9},
{"tissue":"Lung","cell":"B cells","series":"LFA-1","log":2.85,"count":0.3},
{"tissue":"Lung","cell":"B cells","series":"LFA-1","log":2.98,"count":0},
{"tissue":"Peritoneum","cell":"B cells","series":"isotype","log":0.05,"count":0},
{"tissue":"Peritoneum","cell":"B cells","series":"isotype","log":0.055,"count":99.5},
{"tissue":"Peritoneum","cell":"B cells","series":"isotype","log":0.065,"count":99.5},
{"tissue":"Peritoneum","cell":"B cells","series":"isotype","log":0.08,"count":77.4},
{"tissue":"Peritoneum","cell":"B cells","series":"isotype","log":0.10,"count":76.5},
{"tissue":"Peritoneum","cell":"B cells","series":"isotype","log":0.13,"count":78.2},
{"tissue":"Peritoneum","cell":"B cells","series":"isotype","log":0.16,"count":74.0},
{"tissue":"Peritoneum","cell":"B cells","series":"isotype","log":0.18,"count":70.6},
{"tissue":"Peritoneum","cell":"B cells","series":"isotype","log":0.21,"count":74.8},
{"tissue":"Peritoneum","cell":"B cells","series":"isotype","log":0.23,"count":76.5},
{"tissue":"Peritoneum","cell":"B cells","series":"isotype","log":0.26,"count":78.2},
{"tissue":"Peritoneum","cell":"B cells","series":"isotype","log":0.29,"count":82.5},
{"tissue":"Peritoneum","cell":"B cells","series":"isotype","log":0.32,"count":85.9},
{"tissue":"Peritoneum","cell":"B cells","series":"isotype","log":0.35,"count":88.4},
{"tissue":"Peritoneum","cell":"B cells","series":"isotype","log":0.38,"count":92.7},
{"tissue":"Peritoneum","cell":"B cells","series":"isotype","log":0.42,"count":97.8},
{"tissue":"Peritoneum","cell":"B cells","series":"isotype","log":0.44,"count":98.6},
{"tissue":"Peritoneum","cell":"B cells","series":"isotype","log":0.46,"count":94.4},
{"tissue":"Peritoneum","cell":"B cells","series":"isotype","log":0.48,"count":96.1},
{"tissue":"Peritoneum","cell":"B cells","series":"isotype","log":0.50,"count":90.1},
{"tissue":"Peritoneum","cell":"B cells","series":"isotype","log":0.53,"count":91.8},
{"tissue":"Peritoneum","cell":"B cells","series":"isotype","log":0.55,"count":87.6},
{"tissue":"Peritoneum","cell":"B cells","series":"isotype","log":0.57,"count":85.9},
{"tissue":"Peritoneum","cell":"B cells","series":"isotype","log":0.59,"count":77.4},
{"tissue":"Peritoneum","cell":"B cells","series":"isotype","log":0.61,"count":67.2},
{"tissue":"Peritoneum","cell":"B cells","series":"isotype","log":0.64,"count":65.5},
{"tissue":"Peritoneum","cell":"B cells","series":"isotype","log":0.68,"count":60.4},
{"tissue":"Peritoneum","cell":"B cells","series":"isotype","log":0.71,"count":50.2},
{"tissue":"Peritoneum","cell":"B cells","series":"isotype","log":0.74,"count":41.7},
{"tissue":"Peritoneum","cell":"B cells","series":"isotype","log":0.77,"count":33.2},
{"tissue":"Peritoneum","cell":"B cells","series":"isotype","log":0.81,"count":24.7},
{"tissue":"Peritoneum","cell":"B cells","series":"isotype","log":0.84,"count":14.5},
{"tissue":"Peritoneum","cell":"B cells","series":"isotype","log":0.87,"count":7.7},
{"tissue":"Peritoneum","cell":"B cells","series":"isotype","log":0.90,"count":5.1},
{"tissue":"Peritoneum","cell":"B cells","series":"isotype","log":0.94,"count":4.3},
{"tissue":"Peritoneum","cell":"B cells","series":"isotype","log":0.97,"count":2.9},
{"tissue":"Peritoneum","cell":"B cells","series":"isotype","log":1.00,"count":2.2},
{"tissue":"Peritoneum","cell":"B cells","series":"isotype","log":1.03,"count":1.2},
{"tissue":"Peritoneum","cell":"B cells","series":"isotype","log":1.07,"count":0.3},
{"tissue":"Peritoneum","cell":"B cells","series":"isotype","log":1.10,"count":0},
{"tissue":"Peritoneum","cell":"B cells","series":"LFA-1","log":0.06,"count":0},
{"tissue":"Peritoneum","cell":"B cells","series":"LFA-1","log":0.09,"count":0.9},
{"tissue":"Peritoneum","cell":"B cells","series":"LFA-1","log":0.22,"count":1.2},
{"tissue":"Peritoneum","cell":"B cells","series":"LFA-1","log":0.35,"count":1.7},
{"tissue":"Peritoneum","cell":"B cells","series":"LFA-1","log":0.48,"count":2.2},
{"tissue":"Peritoneum","cell":"B cells","series":"LFA-1","log":0.58,"count":2.9},
{"tissue":"Peritoneum","cell":"B cells","series":"LFA-1","log":0.68,"count":3.9},
{"tissue":"Peritoneum","cell":"B cells","series":"LFA-1","log":0.74,"count":5.1},
{"tissue":"Peritoneum","cell":"B cells","series":"LFA-1","log":0.81,"count":6.3},
{"tissue":"Peritoneum","cell":"B cells","series":"LFA-1","log":0.87,"count":8.5},
{"tissue":"Peritoneum","cell":"B cells","series":"LFA-1","log":0.94,"count":10.7},
{"tissue":"Peritoneum","cell":"B cells","series":"LFA-1","log":1.00,"count":13.6},
{"tissue":"Peritoneum","cell":"B cells","series":"LFA-1","log":1.07,"count":15.3},
{"tissue":"Peritoneum","cell":"B cells","series":"LFA-1","log":1.13,"count":16.2},
{"tissue":"Peritoneum","cell":"B cells","series":"LFA-1","log":1.16,"count":17.9},
{"tissue":"Peritoneum","cell":"B cells","series":"LFA-1","log":1.20,"count":18.7},
{"tissue":"Peritoneum","cell":"B cells","series":"LFA-1","log":1.25,"count":17.9},
{"tissue":"Peritoneum","cell":"B cells","series":"LFA-1","log":1.29,"count":19.6},
{"tissue":"Peritoneum","cell":"B cells","series":"LFA-1","log":1.33,"count":21.3},
{"tissue":"Peritoneum","cell":"B cells","series":"LFA-1","log":1.39,"count":23.8},
{"tissue":"Peritoneum","cell":"B cells","series":"LFA-1","log":1.44,"count":26.4},
{"tissue":"Peritoneum","cell":"B cells","series":"LFA-1","log":1.49,"count":28.1},
{"tissue":"Peritoneum","cell":"B cells","series":"LFA-1","log":1.53,"count":28.9},
{"tissue":"Peritoneum","cell":"B cells","series":"LFA-1","log":1.59,"count":31.5},
{"tissue":"Peritoneum","cell":"B cells","series":"LFA-1","log":1.65,"count":36.6},
{"tissue":"Peritoneum","cell":"B cells","series":"LFA-1","log":1.70,"count":41.7},
{"tissue":"Peritoneum","cell":"B cells","series":"LFA-1","log":1.75,"count":48.5},
{"tissue":"Peritoneum","cell":"B cells","series":"LFA-1","log":1.80,"count":57.0},
{"tissue":"Peritoneum","cell":"B cells","series":"LFA-1","log":1.83,"count":65.5},
{"tissue":"Peritoneum","cell":"B cells","series":"LFA-1","log":1.86,"count":74.0},
{"tissue":"Peritoneum","cell":"B cells","series":"LFA-1","log":1.89,"count":79.9},
{"tissue":"Peritoneum","cell":"B cells","series":"LFA-1","log":1.93,"count":85.0},
{"tissue":"Peritoneum","cell":"B cells","series":"LFA-1","log":1.96,"count":87.6},
{"tissue":"Peritoneum","cell":"B cells","series":"LFA-1","log":1.99,"count":92.7},
{"tissue":"Peritoneum","cell":"B cells","series":"LFA-1","log":2.02,"count":94.4},
{"tissue":"Peritoneum","cell":"B cells","series":"LFA-1","log":2.04,"count":97.8},
{"tissue":"Peritoneum","cell":"B cells","series":"LFA-1","log":2.06,"count":96.9},
{"tissue":"Peritoneum","cell":"B cells","series":"LFA-1","log":2.08,"count":92.7},
{"tissue":"Peritoneum","cell":"B cells","series":"LFA-1","log":2.11,"count":82.5},
{"tissue":"Peritoneum","cell":"B cells","series":"LFA-1","log":2.14,"count":72.3},
{"tissue":"Peritoneum","cell":"B cells","series":"LFA-1","log":2.17,"count":60.4},
{"tissue":"Peritoneum","cell":"B cells","series":"LFA-1","log":2.20,"count":50.2},
{"tissue":"Peritoneum","cell":"B cells","series":"LFA-1","log":2.24,"count":40.0},
{"tissue":"Peritoneum","cell":"B cells","series":"LFA-1","log":2.27,"count":29.8},
{"tissue":"Peritoneum","cell":"B cells","series":"LFA-1","log":2.30,"count":19.6},
{"tissue":"Peritoneum","cell":"B cells","series":"LFA-1","log":2.33,"count":11.1},
{"tissue":"Peritoneum","cell":"B cells","series":"LFA-1","log":2.37,"count":6.0},
{"tissue":"Peritoneum","cell":"B cells","series":"LFA-1","log":2.43,"count":2.9},
{"tissue":"Peritoneum","cell":"B cells","series":"LFA-1","log":2.50,"count":2.0},
{"tissue":"Peritoneum","cell":"B cells","series":"LFA-1","log":2.63,"count":1.5},
{"tissue":"Peritoneum","cell":"B cells","series":"LFA-1","log":2.76,"count":0.9},
{"tissue":"Peritoneum","cell":"B cells","series":"LFA-1","log":2.89,"count":0}
]},
"facet": {
  "column": {"field": "tissue", "type": "nominal", "sort": ["Skin", "Lung", "Peritoneum"],
    "header": {"title": "LFA-1 staining intensity (log)", "titleOrient": "bottom", "labelOrient": "top",
      "labelFont": "Liberation Serif", "labelFontSize": 28, "labelFontWeight": "bold", "labelColor": "black", "labelPadding": 2,
      "titleFont": "Liberation Serif", "titleFontSize": 28, "titleFontWeight": "bold", "titleColor": "black", "titlePadding": 4}},
  "row": {"field": "cell", "type": "nominal", "sort": ["T cells", "B cells"],
    "header": {"title": "Relative cell number", "titleOrient": "left", "labelOrient": "right", "labelAngle": 0,
      "labelFont": "Liberation Serif", "labelFontSize": 28, "labelFontWeight": "bold", "labelColor": "black", "labelPadding": 10,
      "titleFont": "Liberation Serif", "titleFontSize": 28, "titleFontWeight": "bold", "titleColor": "black", "titlePadding": 8}}
},
"spacing": {"row": 17, "column": 9},
"bounds": "flush",
"resolve": {"axis": {"x": "independent", "y": "independent"}},
"spec": {
  "width": 205,
  "height": 205,
  "encoding": {
    "x": {"field": "log", "type": "quantitative", "scale": {"domain": [0, 4], "nice": false, "zero": false},
      "axis": {"title": null, "labels": false, "domain": false, "grid": false, "tickColor": "black", "tickWidth": 1,
        "values": [0,0.301,0.477,0.602,0.699,0.778,0.845,0.903,0.954,1,1.301,1.477,1.602,1.699,1.778,1.845,1.903,1.954,2,2.301,2.477,2.602,2.699,2.778,2.845,2.903,2.954,3,3.301,3.477,3.602,3.699,3.778,3.845,3.903,3.954,4],
        "tickSize": {"condition": {"test": "datum.value % 1 === 0", "value": 5}, "value": 3}}},
    "y": {"field": "count", "type": "quantitative", "scale": {"domain": [0, 105.5], "nice": false, "zero": true},
      "axis": {"title": null, "labels": false, "domain": false, "grid": false, "tickColor": "black", "tickWidth": 1,
        "values": [0,4,8,12,16,20,24,28,32,36,40,44,48,52,56,60,64,68,72,76,80,84,88,92,96,100],
        "tickSize": {"condition": {"test": "datum.value % 20 === 0", "value": 5}, "value": 3}}}
  },
  "layer": [
    {"transform": [{"filter": "datum.series === 'gate'"}],
     "mark": {"type": "rule", "color": "black", "strokeWidth": 1.5},
     "encoding": {"x2": {"field": "log_end"}}},
    {"transform": [{"filter": "datum.series === 'gate'"}],
     "mark": {"type": "tick", "orient": "vertical", "color": "black", "size": 10, "thickness": 1.5}},
    {"transform": [{"filter": "datum.series === 'gate'"}],
     "mark": {"type": "tick", "orient": "vertical", "color": "black", "size": 10, "thickness": 1.5},
     "encoding": {"x": {"field": "log_end", "type": "quantitative", "axis": null}}},
    {"transform": [{"filter": "datum.series === 'isotype'"}],
     "mark": {"type": "area", "color": "#cbcbcb", "clip": true}},
    {"transform": [{"filter": "datum.series === 'isotype'"}],
     "mark": {"type": "line", "color": "black", "strokeWidth": 1.4, "clip": true}},
    {"transform": [{"filter": "datum.series === 'LFA-1'"}],
     "mark": {"type": "line", "color": "black", "strokeWidth": 1.4, "clip": true}},
    {"transform": [{"filter": "datum.series === 'gate'"}],
     "mark": {"type": "text", "align": "right", "baseline": "alphabetic", "dx": -4, "dy": -5, "font": "Liberation Sans", "fontSize": 20, "fontWeight": "bold", "color": "black"},
     "encoding": {"x": {"field": "log_end", "type": "quantitative", "axis": null}, "text": {"field": "pct"}}},
    {"transform": [{"filter": "datum.series === 'gate'"}],
     "mark": {"type": "text", "align": "left", "baseline": "alphabetic", "dx": -46, "dy": 19, "font": "Liberation Sans", "fontSize": 20, "fontWeight": "bold", "color": "black"},
     "encoding": {"x": {"field": "log_end", "type": "quantitative", "axis": null}, "text": {"field": "mfi"}}}
  ]
},
"config": {
  "view": {"stroke": "black", "strokeWidth": 1.3},
  "font": "Liberation Serif"
}
}
